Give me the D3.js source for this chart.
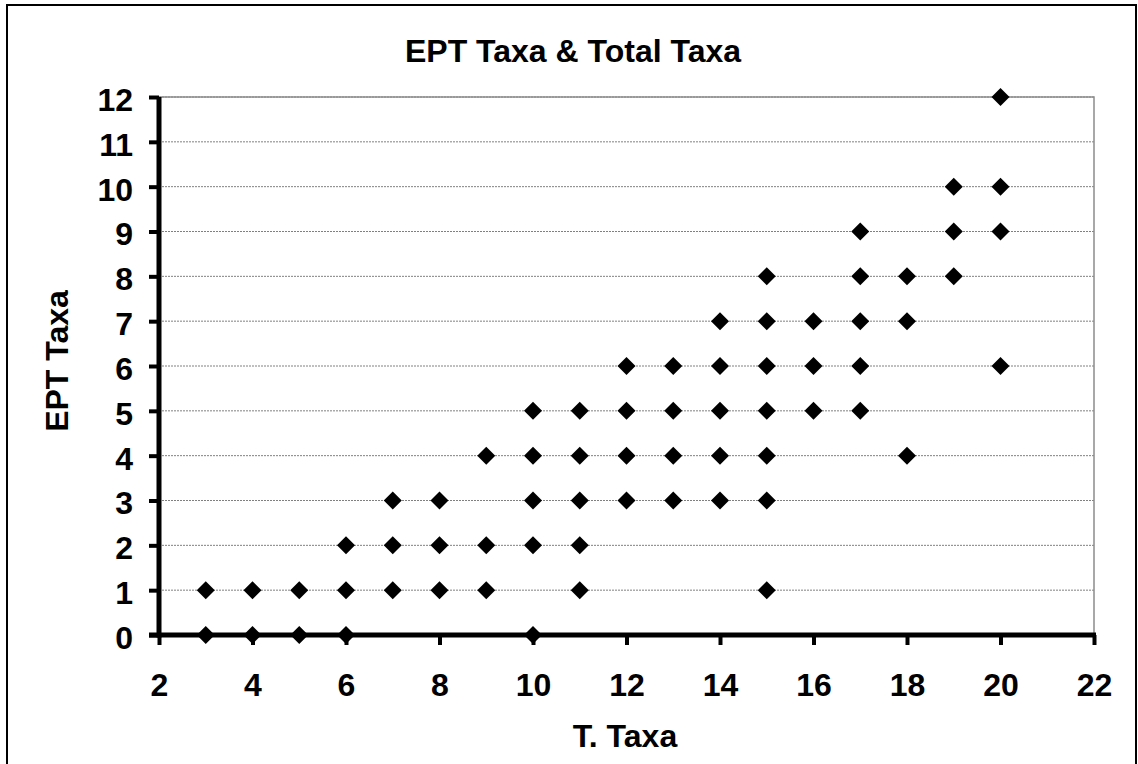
<!DOCTYPE html>
<html>
<head>
<meta charset="utf-8">
<script src="https://cdn.jsdelivr.net/npm/d3@7"></script>
<style>
  html, body { margin: 0; padding: 0; background: #fff; }
  svg { display: block; }
  text { font-family: "Liberation Sans", Arial, sans-serif; font-weight: bold; fill: #000; }
</style>
</head>
<body>
<svg id="chart" width="1138" height="764"></svg>
<script>
// ---- Data ----
const chartTitle = "EPT Taxa & Total Taxa";
const xTitle = "T. Taxa";
const yTitle = "EPT Taxa";
const xTicks = [2, 4, 6, 8, 10, 12, 14, 16, 18, 20, 22];
const yTicks = [0, 1, 2, 3, 4, 5, 6, 7, 8, 9, 10, 11, 12];
// Total taxa (x) and EPT taxa (y) for each observation
const totalTaxa = [3,3, 4,4, 5,5, 6,6,6, 7,7,7, 8,8,8, 9,9,9,
  10,10,10,10,10, 11,11,11,11,11, 12,12,12,12, 13,13,13,13,
  14,14,14,14,14, 15,15,15,15,15,15,15, 16,16,16, 17,17,17,17,17,
  18,18,18, 19,19,19, 20,20,20,20];
const eptTaxa = [0,1, 0,1, 0,1, 0,1,2, 1,2,3, 1,2,3, 1,2,4,
  0,2,3,4,5, 1,2,3,4,5, 3,4,5,6, 3,4,5,6,
  3,4,5,6,7, 1,3,4,5,6,7,8, 5,6,7, 5,6,7,8,9,
  4,7,8, 8,9,10, 6,9,10,12];

const svg = d3.select("#chart");
const plot = { left: 159, right: 1094, top: 97, bottom: 635 };

const x = d3.scaleLinear().domain([2, 22]).range([plot.left, plot.right]);
const y = d3.scaleLinear().domain([0, 12]).range([plot.bottom, plot.top]);

// outer frame
svg.append("rect").attr("x", 7).attr("y", 5).attr("width", 1129).attr("height", 770)
  .attr("fill", "none").attr("stroke", "#000").attr("stroke-width", 2);

// gridlines
svg.append("g").selectAll("line").data(yTicks.filter(d => d > 0)).join("line")
  .attr("x1", plot.left).attr("x2", plot.right)
  .attr("y1", d => y(d)).attr("y2", d => y(d))
  .attr("stroke", "#808080").attr("stroke-width", 1).attr("stroke-dasharray", "2,1");

// plot area top/right border
svg.append("path")
  .attr("d", `M${plot.left},${plot.top}H${plot.right}V${plot.bottom}`)
  .attr("fill", "none").attr("stroke", "#8c8c8c").attr("stroke-width", 1.5);

// axes
const xAxis = d3.axisBottom(x).tickValues(xTicks).tickSize(10).tickPadding(28).tickSizeOuter(0);
const yAxis = d3.axisLeft(y).tickValues(yTicks).tickSize(10).tickPadding(16).tickSizeOuter(0);

const gx = svg.append("g").attr("transform", `translate(0,${plot.bottom})`).call(xAxis);
const gy = svg.append("g").attr("transform", `translate(${plot.left},0)`).call(yAxis);

[gx, gy].forEach(g => {
  g.select(".domain").attr("stroke", "#000").attr("stroke-width", 5);
  g.selectAll(".tick line").attr("stroke", "#000").attr("stroke-width", 4);
  g.selectAll(".tick text").style("font-size", "32px").style("font-family", "'Liberation Sans', Arial, sans-serif").style("font-weight", "bold");
});
gy.select(".domain").attr("d", `M0,${plot.bottom + 2.5}V${plot.top}`);
gx.select(".domain").attr("d", `M${plot.left - 10},0H${plot.right + 2}`);
gy.selectAll(".tick text").attr("dy", "0.42em");

// points
const pts = totalTaxa.map((t, i) => ({ t, e: eptTaxa[i] }));
svg.append("g").selectAll("path").data(pts).join("path")
  .attr("d", d3.symbol().type(d3.symbolSquare).size(162))
  .attr("transform", d => `translate(${x(d.t)},${y(d.e)}) rotate(45)`)
  .attr("fill", "#000");

// titles
svg.append("text").attr("x", 573).attr("y", 62).attr("text-anchor", "middle")
  .style("font-size", "32px").text(chartTitle);
svg.append("text").attr("x", 625).attr("y", 747).attr("text-anchor", "middle")
  .style("font-size", "32px").text(xTitle);
svg.append("text").attr("transform", "translate(68,361) rotate(-90)").attr("text-anchor", "middle")
  .style("font-size", "32px").text(yTitle);
</script>
</body>
</html>
